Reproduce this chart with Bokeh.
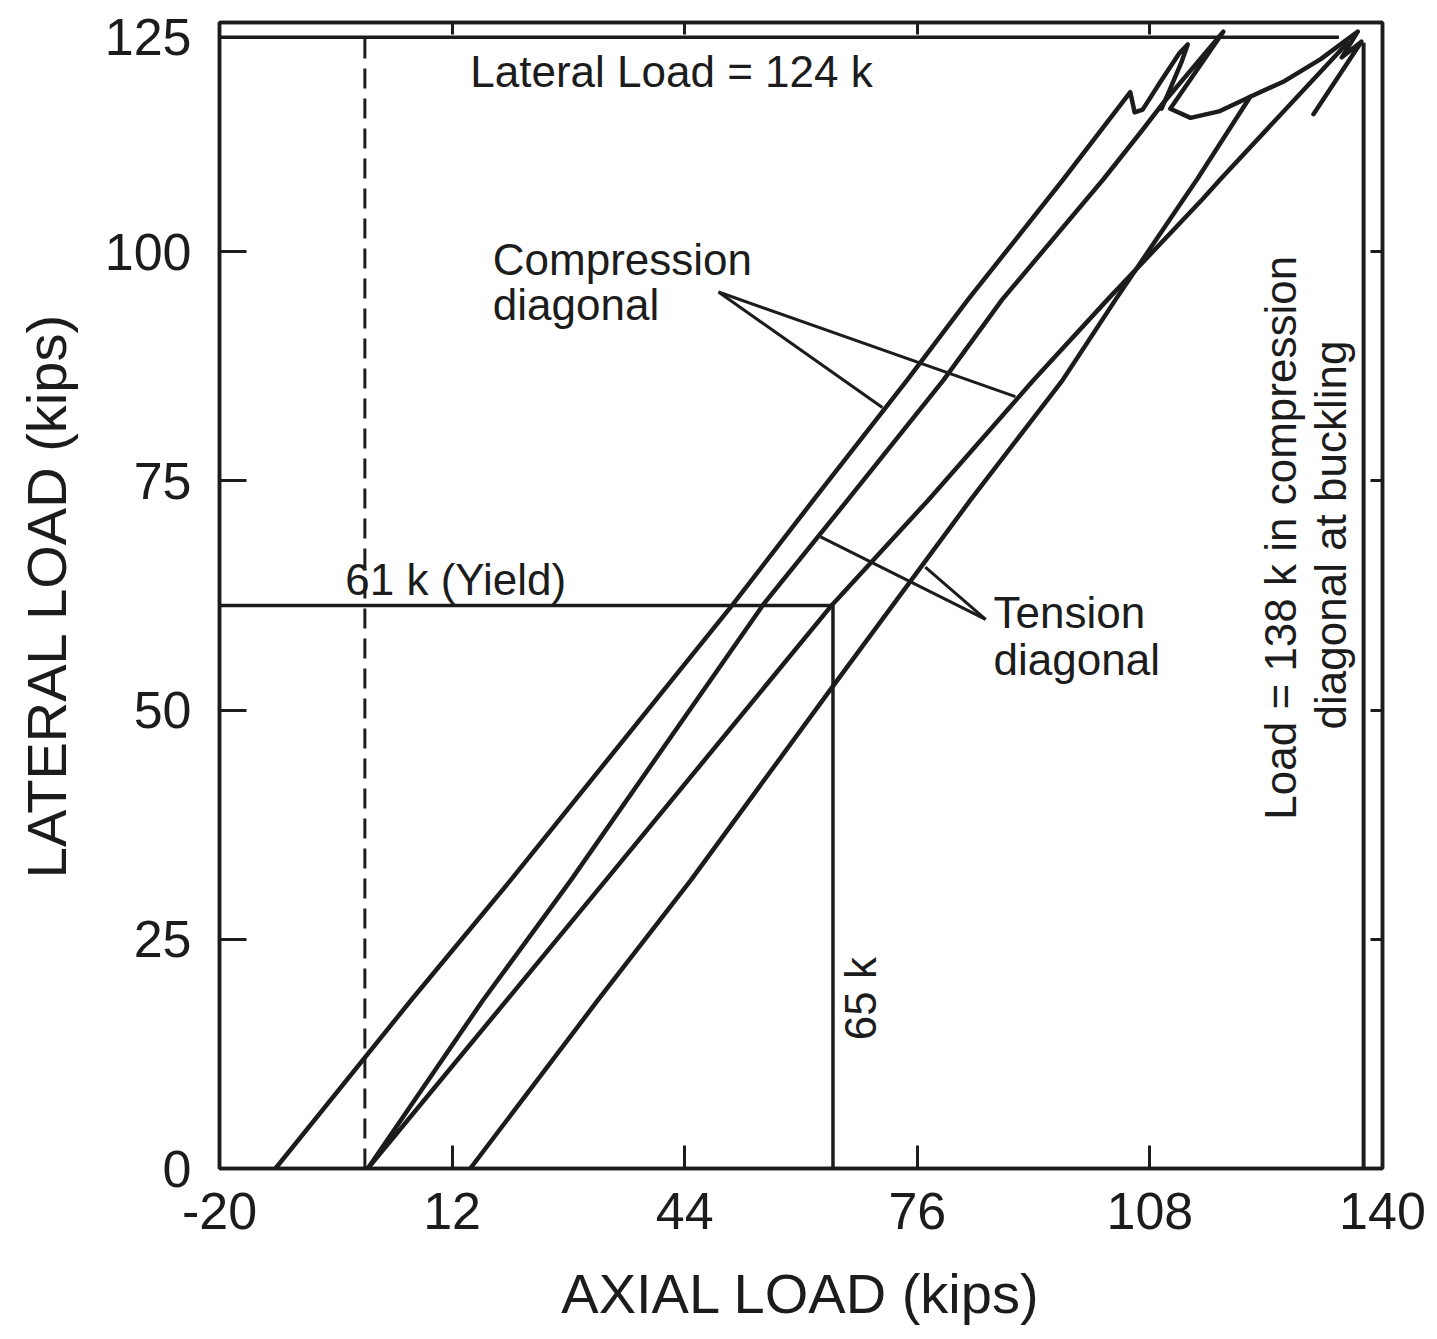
import numpy as np
from bokeh.plotting import figure
from bokeh.models import FixedTicker, LinearAxis
from bokeh.core.properties import value
from bokeh.embed import file_html
from bokeh.resources import INLINE

# ---------------- data ----------------
x_ticks = [-20, 12, 44, 76, 108, 140]
y_ticks = [0, 25, 50, 75, 100, 125]
x_tick_labels = ["-20", "12", "44", "76", "108", "140"]
y_tick_labels = ["0", "25", "50", "75", "100", "125"]

# compression diagonal, first trace (with small loop at top)
comp1_x = [-12.3, 6.3, 20.0, 50.6, 61.7, 74.6, 83.0, 96.1, 105.3, 105.9, 107.0, 109.5, 112.0, 113.2, 112.4, 110.8, 109.6]
comp1_y = [0.0, 18.3, 31.4, 61.5, 72.9, 86.0, 94.8, 107.9, 117.4, 115.2, 115.5, 118.6, 121.6, 122.6, 120.8, 117.8, 115.6]

# tension diagonal, first trace (spike, sagging curve, zig-zag at buckling)
tens1_x = [0.4, 16.2, 28.3, 54.8, 66.4, 79.6, 87.7, 101.6, 107.0, 109.6, 118.1, 110.8, 113.6, 117.5, 121.8, 126.5, 131.5, 135.2, 136.6, 134.4, 137.1, 130.5]
tens1_y = [0.0, 18.3, 31.4, 61.5, 72.9, 86.0, 94.8, 107.9, 113.3, 116.0, 124.0, 115.6, 114.6, 115.3, 116.9, 118.6, 121.0, 123.2, 124.0, 121.2, 122.9, 115.0]

# compression diagonal, second trace
comp2_x = [0.4, 33.1, 64.3, 77.5, 92.0, 102.2, 115.2, 117.7, 135.2]
comp2_y = [0.0, 31.4, 61.5, 72.9, 86.0, 94.8, 105.7, 107.9, 122.8]

# tension diagonal, second trace
tens2_x = [14.5, 32.0, 44.8, 64.3, 83.3, 96.0, 103.3, 112.6, 114.5, 121.8]
tens2_y = [0.0, 18.3, 31.4, 52.5, 72.9, 86.0, 94.8, 105.7, 107.9, 116.9]

# reference levels
yield_lateral = 61.4      # 61 k (Yield)
yield_axial = 64.4        # 65 k
lateral_max = 123.4       # Lateral Load = 124 k
lateral_max_end = 134.0
buckling_axial = 137.4    # 138 k
buckling_top = 122.8
zero_axial = 0.0

# leader lines for labels
comp_leader_x = [[48.65, 71.2], [48.65, 89.5]]
comp_leader_y = [[95.6, 83.0], [95.6, 84.2]]
tens_leader_x = [[85.4, 62.7], [85.4, 77.1]]
tens_leader_y = [[59.9, 68.9], [59.9, 65.6]]

# annotation text positions
label_x = [14.5, 17.6, 17.6, -2.7, 86.5, 86.5]
label_y = [119.65, 99.1, 94.2, 64.2, 60.7, 55.5]
label_t = ["Lateral Load = 124 k", "Compression", "diagonal", "61 k (Yield)", "Tension", "diagonal"]

vlabel_x = [125.96, 132.84]
vlabel_y = [68.8, 69.1]
vlabel_t = ["Load = 138 k in compression", "diagonal at buckling"]

# ---------------- figure ----------------
INK = "#1c1c1c"
FONT = "Liberation Sans"

p = figure(x_range=(-20, 140), y_range=(0, 125),
           frame_width=1163, frame_height=1146,
           min_border_left=219, min_border_top=22, min_border_bottom=150, min_border_right=45,
           output_backend="svg", toolbar_location=None,
           background_fill_color="white", border_fill_color="white")
p.grid.visible = False
p.outline_line_color = INK
p.outline_line_width = 3.5

# in the original the top label "125" is printed level with the 124 k line
left_tick_pos = y_ticks[:-1] + [lateral_max]

for ax, ticks, labels, tin in ((p.xaxis[0], x_ticks, x_tick_labels, 23),
                                (p.yaxis[0], left_tick_pos, y_tick_labels, 27)):
    ax.ticker = FixedTicker(ticks=ticks)
    ax.major_label_overrides = {t: l for t, l in zip(ticks, labels)}
    ax.major_tick_in = tin
    ax.major_tick_out = 0
    ax.minor_tick_line_color = None
    ax.axis_line_width = 3.5
    ax.axis_line_color = INK
    ax.major_tick_line_width = 3
    ax.major_tick_line_color = INK
    ax.major_label_text_font = FONT
    ax.major_label_text_font_size = "52px"
    ax.major_label_text_color = INK
    ax.axis_label_text_font = FONT
    ax.axis_label_text_font_size = "56px"
    ax.axis_label_text_font_style = "normal"
    ax.axis_label_text_color = INK

p.xaxis.axis_label = "AXIAL LOAD (kips)"
p.yaxis.axis_label = "LATERAL LOAD (kips)"
p.xaxis.major_label_standoff = 24
p.yaxis.major_label_standoff = 28
p.xaxis.axis_label_standoff = 30
p.yaxis.axis_label_standoff = 24

for loc, ticks in (("right", y_ticks), ("above", x_ticks)):
    ax = LinearAxis(ticker=FixedTicker(ticks=ticks))
    ax.major_tick_in = 12
    ax.major_tick_out = 0
    ax.minor_tick_line_color = None
    ax.axis_line_width = 3.5
    ax.axis_line_color = INK
    ax.major_tick_line_width = 3
    ax.major_tick_line_color = INK
    ax.major_label_text_font_size = "10px"
    ax.major_label_text_color = None
    ax.major_label_standoff = 0
    p.add_layout(ax, loc)

# reference lines
p.line([-20, yield_axial], [yield_lateral, yield_lateral], line_color=INK, line_width=3.5)
p.line([yield_axial, yield_axial], [0, yield_lateral], line_color=INK, line_width=3.5)
p.line([-20, lateral_max_end], [lateral_max, lateral_max], line_color=INK, line_width=3.5)
p.line([buckling_axial, buckling_axial], [0, buckling_top], line_color=INK, line_width=4)
p.line([zero_axial, zero_axial], [0, lateral_max], line_color=INK, line_width=3, line_dash="20 10")

# data traces
for xs, ys in ((comp1_x, comp1_y), (tens1_x, tens1_y), (comp2_x, comp2_y), (tens2_x, tens2_y)):
    p.line(xs, ys, line_color=INK, line_width=4.5, line_join="round", line_cap="round")

# leaders
p.multi_line(comp_leader_x, comp_leader_y, line_color=INK, line_width=3)
p.multi_line(tens_leader_x, tens_leader_y, line_color=INK, line_width=3)

# annotations
p.text(x=label_x, y=label_y, text=label_t, text_font=value(FONT), text_font_size=value("44px"),
       text_baseline="middle", text_align="left", text_color=INK)
p.text(x=vlabel_x, y=vlabel_y, text=vlabel_t, text_font=value(FONT), text_font_size=value("44px"),
       text_baseline="middle", text_align="center", text_color=INK, angle=np.pi / 2)
p.text(x=[68.2], y=[14.0], text=["65 k"], text_font=value(FONT), text_font_size=value("44px"),
       text_baseline="middle", text_align="left", text_color=INK, angle=np.pi / 2)

open("out.html", "w").write(file_html(p, INLINE))
